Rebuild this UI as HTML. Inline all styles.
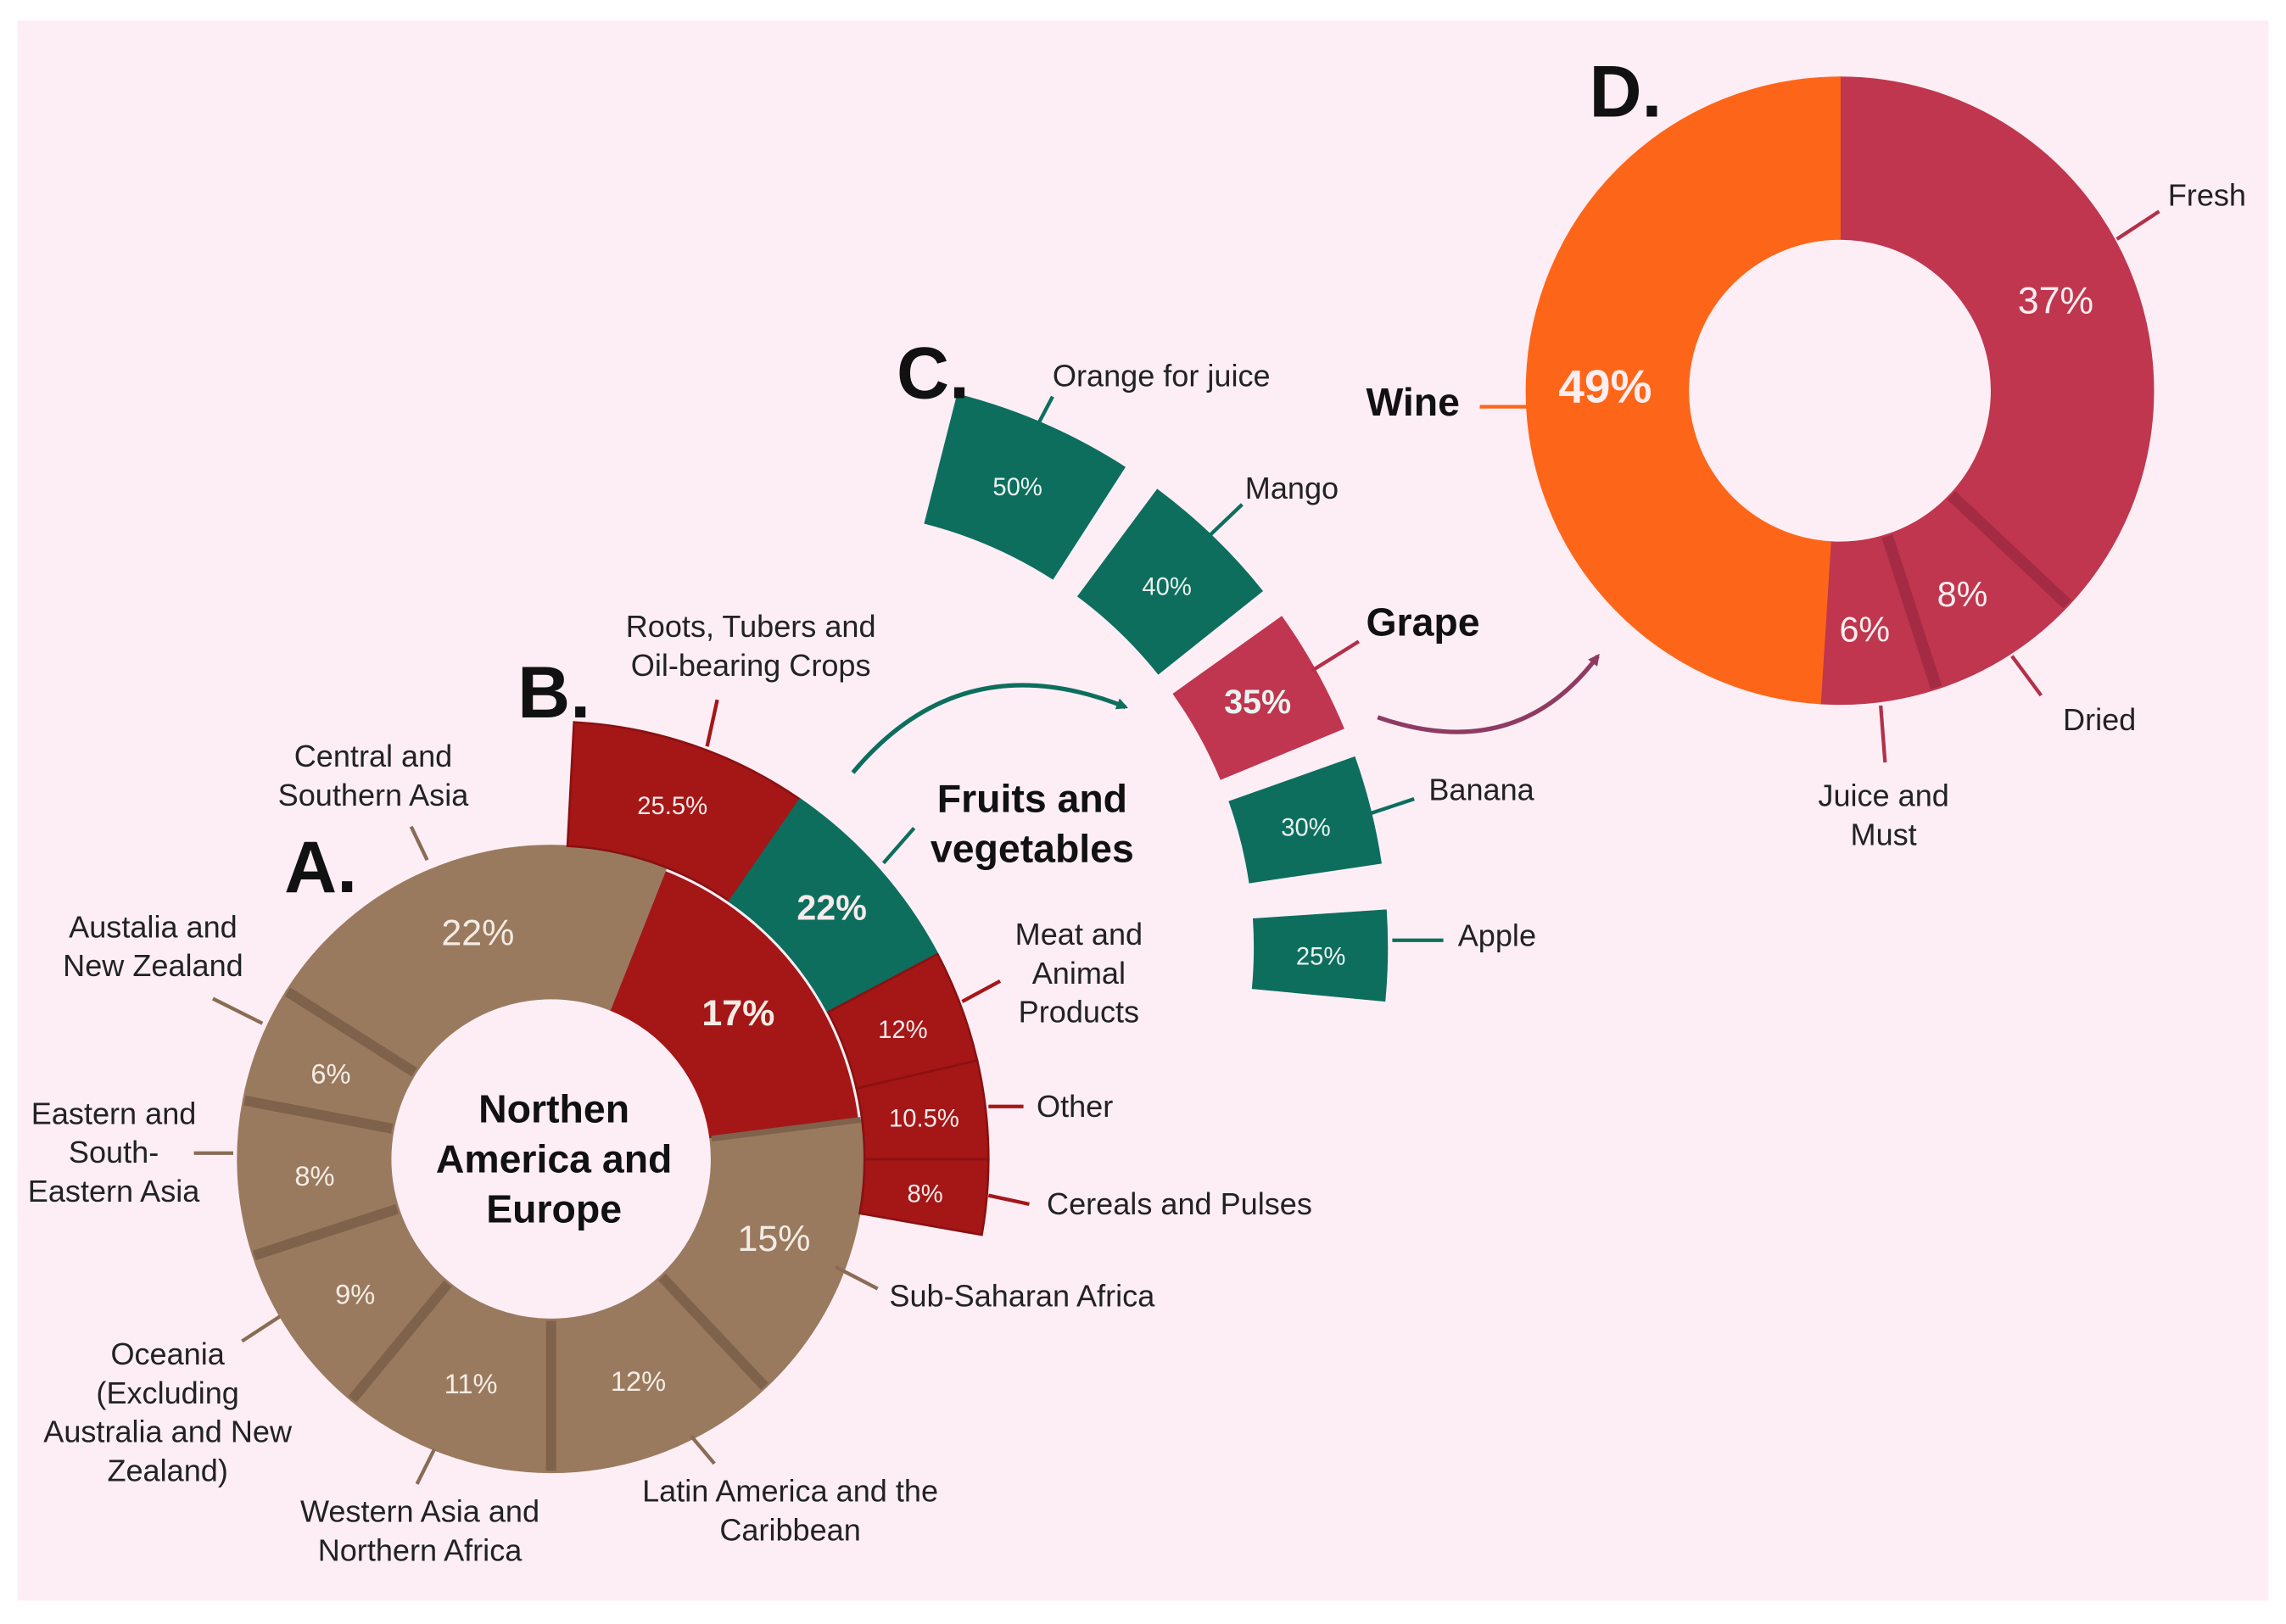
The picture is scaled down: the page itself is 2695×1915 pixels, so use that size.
<!DOCTYPE html>
<html><head><meta charset="utf-8"><style>
html,body{margin:0;padding:0;background:#fff;}
svg{display:block;font-family:"Liberation Sans",Arial,sans-serif;}
</style></head><body>
<svg id="chart" width="2695" height="1915" viewBox="0 0 1568 1114" preserveAspectRatio="none" xmlns="http://www.w3.org/2000/svg">
<rect x="0" y="0" width="1568" height="1114" fill="#ffffff"/>
<rect x="12" y="14" width="1544" height="1084" fill="#fdeef5"/>
<g id="gA"></g>
<g id="gB"></g>
<g id="gC"></g>
<g id="gD"></g>
<g id="gT" font-size="21" fill="#222"></g>
<defs>
<marker id="arT" markerWidth="8" markerHeight="8" refX="6" refY="4" orient="auto" markerUnits="userSpaceOnUse"><path d="M0,0 L14,7 L0,14 Z" transform="scale(0.57)" fill="#0d6e5e"/></marker>
<marker id="arP" markerWidth="8" markerHeight="8" refX="6" refY="4" orient="auto" markerUnits="userSpaceOnUse"><path d="M0,0 L14,7 L0,14 Z" transform="scale(0.57)" fill="#8e3a62"/></marker>
</defs>
<path d="M585,530 Q660,440 772,485" fill="none" stroke="#0d6e5e" stroke-width="3" marker-end="url(#arT)"/>
<path d="M945,492 Q1040,525 1096,450" fill="none" stroke="#8e3a62" stroke-width="3" marker-end="url(#arP)"/>
</svg>
<script>
// Panel A: regions (clockwise from the red slice)
const aRegions = ["Northern America and Europe","Sub-Saharan Africa","Latin America and the Caribbean","Western Asia and Northern Africa","Oceania (Excluding Australia and New Zealand)","Eastern and South-Eastern Asia","Australia and New Zealand","Central and Southern Asia"];
const aValues = [17,15,12,11,9,8,6,22];
const aLabels = ["17%","15%","12%","11%","9%","8%","6%","22%"];
// Panel B: food categories of Northern America and Europe
const bCategories = ["Roots, Tubers and Oil-bearing Crops","Fruits and vegetables","Meat and Animal Products","Other","Cereals and Pulses"];
const bValues = [25.5,22,12,10.5,8];
const bLabels = ["25.5%","22%","12%","10.5%","8%"];
// Panel C: fruits
const cFruits = ["Orange for juice","Mango","Grape","Banana","Apple"];
const cValues = [50,40,35,30,25];
const cLabels = ["50%","40%","35%","30%","25%"];
// Panel D: grape use
const dUses = ["Fresh","Dried","Juice and Must","Wine"];
const dValues = [37,8,6,49];
const dLabels = ["37%","8%","6%","49%"];

const NS="http://www.w3.org/2000/svg";
function pt(cx,cy,r,a){const t=(a-90)*Math.PI/180;return [cx+r*Math.cos(t),cy+r*Math.sin(t)];}
function sector(cx,cy,r0,r1,a0,a1){
  const l=(a1-a0)>180?1:0;
  const p1=pt(cx,cy,r1,a0),p2=pt(cx,cy,r1,a1),p3=pt(cx,cy,r0,a1),p4=pt(cx,cy,r0,a0);
  return `M${p1[0]},${p1[1]} A${r1},${r1} 0 ${l} 1 ${p2[0]},${p2[1]} L${p3[0]},${p3[1]} A${r0},${r0} 0 ${l} 0 ${p4[0]},${p4[1]} Z`;
}
function mk(parent,tag,attrs){const e=document.createElementNS(NS,tag);for(const k in attrs)e.setAttribute(k,attrs[k]);parent.appendChild(e);return e;}
function txt(parent,x,y,s,size,opts){
  const e=mk(parent,"text",{x:x,y:y,"font-size":size,"text-anchor":(opts&&opts.anchor)||"middle",fill:(opts&&opts.fill)||"#222","font-weight":(opts&&opts.bold)?"bold":"normal"});
  e.textContent=s;return e;
}
function sep(parent,cx,cy,r0,r1,a,col,w){
  const p=pt(cx,cy,r0+1,a),q=pt(cx,cy,r1-1,a);
  const l=mk(parent,"line",{x1:p[0],y1:p[1],x2:q[0],y2:q[1],stroke:col,"stroke-width":w});
  
  
}

// ---- A ----
const gA=document.getElementById("gA");
const Acx=378,Acy=795,Ar0=110,Ar1=215;
const aStart=180-(aValues[0]+aValues[1]+aValues[2])*3.6;
let ang=aStart;
const aBounds=[];
aValues.forEach((v,i)=>{
  const a0=ang,a1=ang+v*3.6;ang=a1;aBounds.push(a1);
  const p=mk(gA,"path",{d:sector(Acx,Acy,Ar0,i===0?Ar1-3:Ar1,a0,a1),fill:i===0?"#a51616":"#9a7a5f",stroke:i===0?"#a51616":"#9a7a5f","stroke-width":1});
  
  
});
aBounds.slice(0,7).forEach((a,k)=>sep(gA,Acx,Acy,Ar0,Ar1,a,"#7e624c",k===0?4:7));
ang=aStart;
aValues.forEach((v,i)=>{
  const a0=ang,a1=ang+v*3.6;ang=a1;
  const big=(v>=15);
  const c=pt(Acx,Acy,(Ar0+Ar1)/2,(a0+a1)/2);
  const t=txt(gA,c[0],c[1]+8,aLabels[i],big?25:19,{fill:"#f4ece4",bold:i===0});
  
  
});
// ---- B ----
const gB=document.getElementById("gB");
const Br0=215,Br1=300,bScale=97/78;
ang=3;
bValues.forEach((v,i)=>{
  const a0=ang,a1=ang+v*bScale;ang=a1;
  const p=mk(gB,"path",{d:sector(Acx,Acy,Br0,Br1,a0,a1),fill:i===1?"#0d6e5e":"#a51616",stroke:i===1?"#0d6e5e":"#8a1111","stroke-width":1.5});
  
  
  const c=pt(Acx,Acy,(Br0+Br1)/2,(a0+a1)/2);
  const t=txt(gB,c[0],c[1]+7,bLabels[i],i===1?24:17,{fill:"#f6eaea",bold:i===1});
  
  
});
// ---- C ----
const gC=document.getElementById("gC");
const Ccx=560,Ccy=650,Cr0=300,Cr1=392,cScale=0.37;
const cMids=[23.5,44,61,76,90.8];
cValues.forEach((v,i)=>{
  const w=v*cScale,a0=cMids[i]-w/2,a1=cMids[i]+w/2;
  const p=mk(gC,"path",{d:sector(Ccx,Ccy,Cr0,Cr1,a0,a1),fill:i===2?"#c0354f":"#0d6e5e"});
  
  
  const c=pt(Ccx,Ccy,(Cr0+Cr1)/2,cMids[i]);
  const t=txt(gC,c[0],c[1]+7,cLabels[i],i===2?23:17,{fill:"#eaf3ef",bold:i===2});
  
  
});
// ---- D ----
const gD=document.getElementById("gD");
const Dcx=1262,Dcy=268,Dr0=104,Dr1=215;
ang=0;
const dBounds=[];
dValues.forEach((v,i)=>{
  const a0=ang,a1=ang+v*3.6;ang=a1;dBounds.push(a1);
  const p=mk(gD,"path",{d:sector(Dcx,Dcy,Dr0,Dr1,a0,a1),fill:i===3?"#fd6619":"#c0364e",stroke:i===3?"#fd6619":"#c0364e","stroke-width":1});
  
  
});
dBounds.slice(0,2).forEach(a=>sep(gD,Dcx,Dcy,Dr0,Dr1,a,"#a32b43",8));
[[1410,215,0,26,false],[1346,416,1,24,false],[1279,440,2,24,false],[1101,276,3,32,true]].forEach(q=>{
  const t=txt(gD,q[0],q[1],dLabels[q[2]],q[3],{fill:"#fbeef0",bold:q[4]});
  
  
});

// ---- annotations ----
const gT=document.getElementById("gT");
function lines(x,y,arr,size,opts,name){
  arr.forEach((s,k)=>{const t=txt(gT,x,y+k*(size*1.27),s,size,opts);
    
    });
}
function lead(x1,y1,x2,y2,col,name){const l=mk(gT,"line",{x1:x1,y1:y1,x2:x2,y2:y2,stroke:col,"stroke-width":2.5});
  
  }
const BR="#8a6c55",RD="#a51616",TL="#0d6e5e",CR="#b3304a",OR="#fd6619";
lines(220,612,["A."],50,{bold:true,fill:"#111"},"panel-label-a");
lines(380,492,["B."],50,{bold:true,fill:"#111"},"panel-label-b");
lines(640,273,["C."],50,{bold:true,fill:"#111"},"panel-label-c");
lines(1115,80,["D."],50,{bold:true,fill:"#111"},"panel-label-d");
lines(380,770,["Northen","America and","Europe"],27,{bold:true,fill:"#111"},"center-label-a");
lines(256,526,["Central and","Southern Asia"],21,{},"label-central-asia"); lead(282,567,293,590,BR,"leader-central-asia");
lines(105,643,["Austalia and","New Zealand"],21,{},"label-australia"); lead(146,685,180,702,BR,"leader-australia");
lines(78,771,["Eastern and","South-","Eastern Asia"],21,{},"label-eastern-asia"); lead(133,791,160,791,BR,"leader-eastern-asia");
lines(115,936,["Oceania","(Excluding","Australia and New","Zealand)"],21,{},"label-oceania"); lead(166,920,192,903,BR,"leader-oceania");
lines(288,1044,["Western Asia and","Northern Africa"],21,{},"label-western-asia"); lead(286,1018,298,994,BR,"leader-western-asia");
lines(542,1030,["Latin America and the","Caribbean"],21,{},"label-latin-america"); lead(474,985,490,1004,BR,"leader-latin-america");
lines(610,896,["Sub-Saharan Africa"],21,{anchor:"start"},"label-sub-saharan"); lead(573,869,602,884,BR,"leader-sub-saharan");
lines(515,437,["Roots, Tubers and","Oil-bearing Crops"],21,{},"label-roots"); lead(485,512,492,480,RD,"leader-roots");
lines(708,557,["Fruits and","vegetables"],27,{bold:true,fill:"#111"},"label-fruits-veg"); lead(606,592,627,568,TL,"leader-fruits-veg");
lines(740,648,["Meat and","Animal","Products"],21,{},"label-meat"); lead(660,687,686,673,RD,"leader-meat");
lines(711,766,["Other"],21,{anchor:"start"},"label-other"); lead(678,759,702,759,RD,"leader-other");
lines(718,833,["Cereals and Pulses"],21,{anchor:"start"},"label-cereals"); lead(678,820,706,826,RD,"leader-cereals");
lines(722,265,["Orange for juice"],21,{anchor:"start"},"label-orange"); lead(711,293,722,272,TL,"leader-orange");
lines(854,342,["Mango"],21,{anchor:"start"},"label-mango"); lead(830,367,852,346,TL,"leader-mango");
lines(937,436,["Grape"],27,{anchor:"start",bold:true,fill:"#111"},"label-grape"); lead(900,460,932,440,CR,"leader-grape");
lines(980,549,["Banana"],21,{anchor:"start"},"label-banana"); lead(940,558,970,548,TL,"leader-banana");
lines(1000,649,["Apple"],21,{anchor:"start"},"label-apple"); lead(955,645,990,645,TL,"leader-apple");
lines(1487,141,["Fresh"],21,{anchor:"start"},"label-fresh"); lead(1452,164,1481,145,CR,"leader-fresh");
lines(937,285,["Wine"],27,{anchor:"start",bold:true,fill:"#111"},"label-wine"); lead(1015,279,1048,279,OR,"leader-wine");
lines(1415,501,["Dried"],21,{anchor:"start"},"label-dried"); lead(1380,450,1400,477,CR,"leader-dried");
lines(1292,553,["Juice and","Must"],21,{},"label-juice"); lead(1290,484,1293,523,CR,"leader-juice");
</script>
</body></html>
